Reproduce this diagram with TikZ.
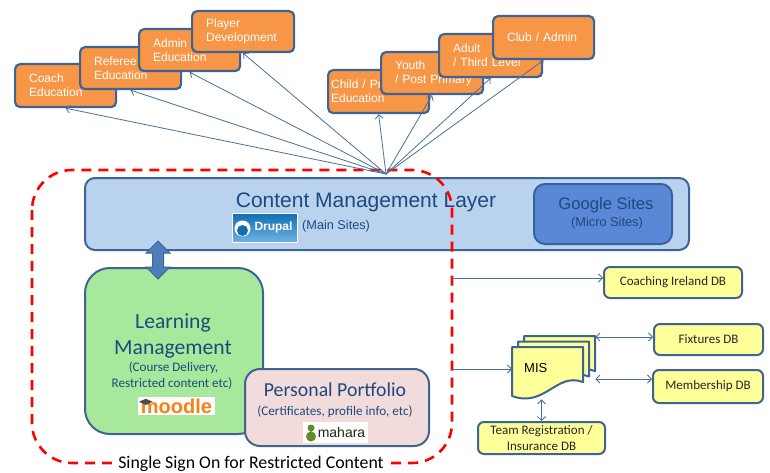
\documentclass[tikz,border=0pt]{standalone}
\usepackage{fontspec}
\setmainfont{Liberation Sans}
\newfontfamily\calibri{Carlito}
\usetikzlibrary{arrows.meta,shapes.arrows}
\definecolor{edorange}{HTML}{F79646}
\definecolor{boxline}{HTML}{3D6494}
\definecolor{linkblue}{HTML}{4A6E9E}
\definecolor{cmlfill}{HTML}{B9D3EF}
\definecolor{navy}{HTML}{1F497D}
\definecolor{gsfill}{HTML}{5B88D6}
\definecolor{gsline}{HTML}{3A62A0}
\definecolor{lmfill}{HTML}{A8E89C}
\definecolor{ppfill}{HTML}{F2DCDB}
\definecolor{dbfill}{HTML}{FFFF99}
\definecolor{syncfill}{HTML}{4F7DB8}
\definecolor{drupaltop}{HTML}{0F6DB3}
\definecolor{drupalbot}{HTML}{6FB3E3}
\definecolor{moodleorange}{HTML}{F98012}
\definecolor{maharagreen}{HTML}{5E8C2A}
\begin{document}
\begin{tikzpicture}[x=1pt,y=-1pt,>={Straight Barb[length=4pt,width=8pt]},
  edu/.style={draw=boxline,line width=2.2pt,fill=edorange,rounded corners=5pt,anchor=north west,
    text=white,align=left,inner xsep=14pt,font=\fontsize{12}{14}\selectfont},
  link/.style={->,draw=linkblue,line width=0.8pt},
  layer/.style={draw=boxline,line width=2pt,fill=cmlfill,rounded corners=10pt,anchor=north west},
  gsite/.style={draw=gsline,line width=2pt,fill=gsfill,rounded corners=11pt,anchor=north west},
  lmbox/.style={draw=boxline,line width=2pt,fill=lmfill,rounded corners=25pt,anchor=north west},
  ppbox/.style={draw=boxline,line width=2pt,fill=ppfill,rounded corners=15pt,anchor=north west},
  db/.style={draw=boxline,line width=2pt,fill=dbfill,rounded corners=6pt,align=center,
    text=black!85,font=\calibri\fontsize{13}{15.5}\selectfont},
  logo/.style={fill=white,inner sep=0pt},
  sso/.style={draw=red,line width=2.6pt,dash pattern=on 10pt off 7pt,rounded corners=40pt},
  sync/.style={double arrow,draw=boxline,fill=syncfill,line width=1pt,inner sep=5pt,
    minimum width=23pt,minimum height=38pt,double arrow head extend=6.5pt},
  doc/.style={draw=boxline,line width=2pt,fill=dbfill,line join=round}]
\path[use as bounding box,fill=white] (0,0) rectangle (770,473);

\node[edu,minimum width=101pt,minimum height=43pt,text width=73pt] (coach) at (14,63) {Coach\\Education};
\node[edu,minimum width=101pt,minimum height=42pt,text width=73pt] (referee) at (79,46) {Referee\\Education};
\node[edu,minimum width=101pt,minimum height=42pt,text width=73pt] (admin) at (138,28) {Admin\\Education};
\node[edu,minimum width=102pt,minimum height=41pt,text width=74pt] (player) at (191,10) {Player\\\mbox{Development}};
\node[edu,minimum width=101pt,minimum height=43pt,text width=95pt,inner xsep=3pt] (child) at (327,69) {\mbox{Child / Primary}\\Education};
\node[edu,minimum width=102pt,minimum height=42pt,text width=74pt] (youth) at (380,51) {Youth\\\mbox{/ Post Primary}};
\node[edu,minimum width=103pt,minimum height=43pt,text width=75pt] (adult) at (438,33) {Adult\\\mbox{/ Third Level}};
\node[edu,minimum width=101pt,minimum height=43pt,text width=73pt] (club) at (492,15) {\mbox{Club / Admin}};

\node[layer,minimum width=604pt,minimum height=72pt] (cml) at (84,177) {};
\node[anchor=base,text=navy,font=\fontsize{21}{25}\selectfont] (cmltitle) at (366,207) {Content Management Layer};
\node[logo,draw=white,line width=1pt,top color=drupaltop,bottom color=drupalbot,minimum width=65pt,minimum height=29pt,
  text=white,font=\bfseries\fontsize{12}{14}\selectfont] (drupal) at (264.5,227.5) {\hspace*{18pt}Drupal};
\fill[white] ([xshift=11pt,yshift=-1pt]drupal.west) circle (8pt);
\fill[drupaltop] ([xshift=11pt,yshift=-3pt]drupal.west) circle (5.5pt);
\node[anchor=base west,inner sep=0pt,text=navy,font=\fontsize{12.7}{15}\selectfont] (mainsites) at (302,229) {(Main Sites)};

\node[gsite,minimum width=138pt,minimum height=60pt] (google) at (533,183) {};
\node[anchor=base,text=navy,font=\fontsize{16.6}{19}\selectfont] (gstitle) at (606,209) {Google Sites};
\node[anchor=base,text=navy,font=\fontsize{12.8}{15}\selectfont] (gsnote) at (607,226) {(Micro Sites)};

\node[lmbox,minimum width=178pt,minimum height=166pt] (lms) at (84,267) {};
\node[anchor=base,text=navy,font=\calibri\fontsize{21.6}{26}\selectfont] (lmtitle) at (173,328) {Learning};
\node[anchor=base,text=navy,font=\calibri\fontsize{21.6}{26}\selectfont] (lmtitleb) at (173,354) {Management};
\node[anchor=base,text=navy,font=\calibri\fontsize{13.1}{16}\selectfont] (lmnote) at (173.5,371.5) {(Course Delivery,};
\node[anchor=base,text=navy,font=\calibri\fontsize{13.1}{16}\selectfont] (lmnoteb) at (172,387.5) {Restricted content etc)};
\node[logo,minimum width=77pt,minimum height=18pt,text=moodleorange,font=\bfseries\fontsize{20}{20}\selectfont] (moodle) at (176.5,406) {moodle};
\fill[black!70] ([xshift=1pt,yshift=-5pt]moodle.north west) -- ++(7,-3) -- ++(7,3) -- ++(-7,3) -- cycle;

\node[ppbox,minimum width=184pt,minimum height=77pt] (pp) at (244,368) {};
\node[anchor=base,text=navy,font=\calibri\fontsize{19.8}{24}\selectfont] (pptitle) at (335,396.7) {Personal Portfolio};
\node[anchor=base,text=navy,font=\calibri\fontsize{13.2}{16}\selectfont] (ppnote) at (335,415) {(Certificates, profile info, etc)};
\node[logo,minimum width=65pt,minimum height=21pt,text=black!70!maharagreen,font=\fontsize{14}{16}\selectfont] (mahara) at (335.5,432.5) {\hspace*{12pt}mahara};
\fill[maharagreen] (311,428) circle (3.5pt) (311,436.5) circle (5pt);

\node[sync,rotate=90] (sync) at (158,260) {};

\draw[sso] (32,170) rectangle (452,463);
\node[anchor=base,fill=white,inner xsep=6pt,inner ysep=2pt,font=\calibri\fontsize{17.8}{20}\selectfont] (ssolabel) at (251,468) {Single Sign On for Restricted Content};

\coordinate (hub) at (386,174);
\foreach \b in {coach,referee,admin,player,child,youth,adult,club}
  \draw[link] (hub) -- (\b.south);

\node[db,minimum width=138pt,minimum height=31pt] (coachdb) at (673,282.5) {Coaching Ireland DB};
\node[db,minimum width=109pt,minimum height=31pt] (fixdb) at (708.5,339.5) {Fixtures DB};
\node[db,minimum width=110pt,minimum height=33pt] (memberdb) at (708,386.5) {Membership DB};
\node[db,minimum width=127pt,minimum height=32pt] (teamdb) at (541.5,438) {Team Registration /\\Insurance DB};

\foreach \dx/\dy in {12/-11,6/-5.5,0/0}
  \draw[doc,shift={(\dx,\dy)}] (512,347) -- (583,347) -- (583,382) .. controls (556,372) and (545,408) .. (512,396) -- cycle;
\node[anchor=north west,inner sep=0pt,minimum width=83pt,minimum height=63pt] (misstack) at (512,336) {};
\node[anchor=base west,inner sep=0pt,font=\fontsize{13}{15}\selectfont] (mis) at (524,372.7) {MIS};

\coordinate (ssocoach) at (452,278);
\coordinate (ssomis) at (452,369);
\draw[link] (ssocoach) -- (ssocoach -| coachdb.west);
\draw[link] (ssomis) -- (ssomis -| misstack.west);
\draw[link,<->] ([yshift=2.5pt]fixdb.west) -- ([yshift=2.5pt]fixdb.west -| misstack.east);
\draw[link,<->] ([yshift=7.5pt]memberdb.west) -- ([yshift=7.5pt]memberdb.west -| misstack.east);
\draw[link,<->] (teamdb.north) -- (teamdb.north |- misstack.south);
\end{tikzpicture}
\end{document}
